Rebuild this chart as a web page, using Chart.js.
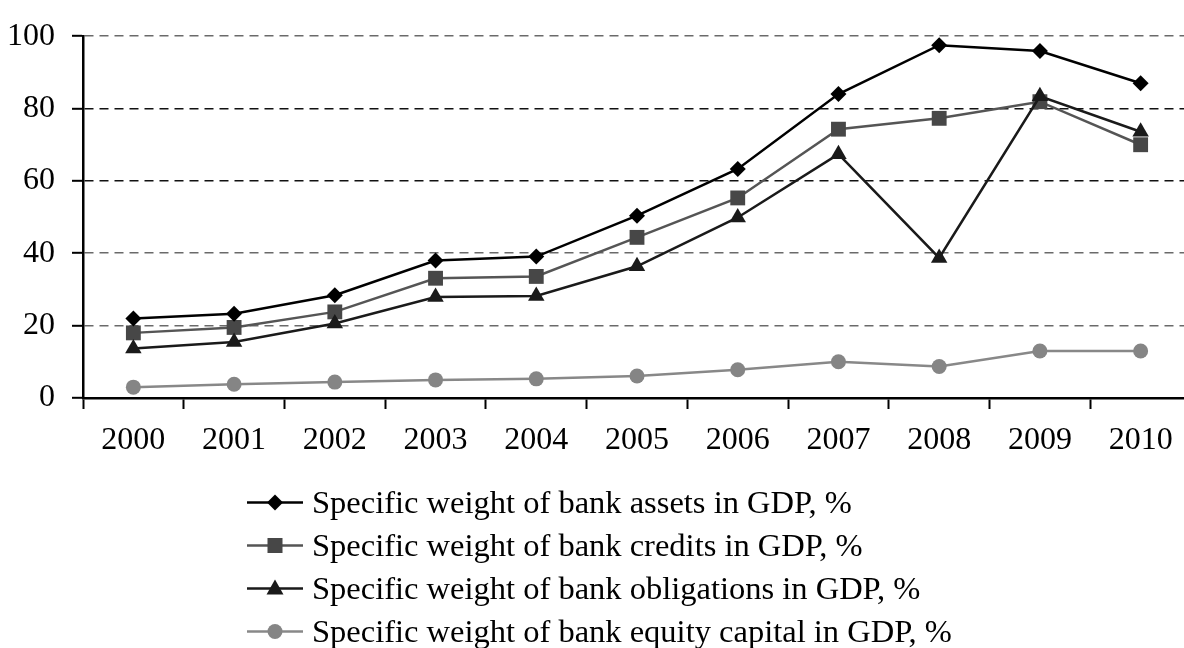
<!DOCTYPE html>
<html>
<head>
<meta charset="utf-8">
<script src="https://cdn.jsdelivr.net/npm/chart.js@4.4.1/dist/chart.umd.min.js"></script>
<style>
  html, body { margin: 0; padding: 0; background: #fff; overflow: hidden; }
  #wrap { position: relative; width: 1184px; height: 648px; overflow: hidden; background: #fff; }
  #c { position: absolute; left: 0; top: 0; }
  #legend { position: absolute; left: 247px; top: 481px; font-family: 'Liberation Serif', 'Times New Roman', serif; font-size: 32.5px; color: #000; }
  .row { display: flex; align-items: center; height: 43px; white-space: nowrap; }
  .row svg { flex: none; margin-right: 9px; }
</style>
</head>
<body>
<div id="wrap">
  <canvas id="c" width="1191" height="648"></canvas>
  <div id="legend"></div>
</div>
<script>
const years = ['2000','2001','2002','2003','2004','2005','2006','2007','2008','2009','2010'];
const assets      = [22.0, 23.3, 28.4, 38.0, 39.1, 50.4, 63.3, 84.0, 97.5, 95.9, 87.0];
const credits     = [18.0, 19.5, 23.8, 33.1, 33.6, 44.4, 55.3, 74.3, 77.3, 81.9, 70.0];
const obligations = [13.7, 15.5, 20.6, 27.9, 28.2, 36.4, 49.9, 67.4, 38.7, 83.4, 73.6];
const equity      = [3.0, 3.8, 4.4, 5.0, 5.3, 6.1, 7.8, 10.0, 8.7, 13.0, 13.0];
const seriesNames = [
  'Specific weight of bank assets in GDP, %',
  'Specific weight of bank credits in GDP, %',
  'Specific weight of bank obligations in GDP, %',
  'Specific weight of bank equity capital in GDP, %'
];
const yTicks = [0, 20, 40, 60, 80, 100];

const FONT = "'Liberation Serif', 'Times New Roman', serif";

const styles = [
  { line: '#000000', fill: '#000000', shape: 'rectRot', r: 8, order: 1 },
  { line: '#555555', fill: '#474747', shape: 'rect', r: 10.5, order: 3 },
  { line: '#1a1a1a', fill: '#1a1a1a', shape: 'triangle', r: 9.5, order: 2 },
  { line: '#888888', fill: '#858585', shape: 'circle', r: 7.5, order: 4 }
];
const values = [assets, credits, obligations, equity];

const datasets = values.map((v, i) => ({
  label: seriesNames[i],
  data: v,
  borderColor: styles[i].line,
  backgroundColor: styles[i].fill,
  pointBackgroundColor: styles[i].fill,
  pointBorderColor: styles[i].fill,
  pointBorderWidth: 0,
  pointStyle: styles[i].shape,
  pointRadius: styles[i].r,
  borderWidth: 2.5,
  tension: 0,
  clip: false,
  order: styles[i].order
}));

new Chart(document.getElementById('c'), {
  type: 'line',
  data: { labels: years, datasets },
  options: {
    responsive: false,
    animation: false,
    layout: { autoPadding: false, padding: { top: 34, right: 0, left: 0, bottom: 0 } },
    plugins: { legend: { display: false }, tooltip: { enabled: false } },
    scales: {
      x: {
        offset: true,
        afterFit: s => { s.height = 250; },
        grid: {
          offset: true,
          drawOnChartArea: false,
          drawTicks: true,
          tickLength: 11,
          tickColor: '#000',
          tickWidth: 2
        },
        border: { color: '#000', width: 2.5 },
        ticks: { color: '#000', padding: 12, font: { family: FONT, size: 32 }, maxRotation: 0, autoSkip: false }
      },
      y: {
        min: yTicks[0],
        max: yTicks[yTicks.length - 1],
        afterFit: s => { s.width = 83; },
        afterBuildTicks: s => { s.ticks = yTicks.map(v => ({ value: v })); },
        grid: {
          color: c => (c.tick && c.tick.value === 0) ? 'rgba(0,0,0,0)' : ((c.tick && (c.tick.value === 60 || c.tick.value === 80)) ? '#111' : '#6a6a6a'),
          lineWidth: 1.6,
          drawTicks: true,
          tickLength: 11,
          tickColor: '#000',
          tickWidth: 2,
          tickBorderDash: [0, 0]
        },
        border: { color: '#000', width: 2.5, dash: [9, 6] },
        ticks: { color: '#000', padding: 17, font: { family: FONT, size: 32 } }
      }
    }
  }
});

// HTML legend
const legend = document.getElementById('legend');
function icon(st) {
  const w = 56, h = 43, cx = 28, cy = 21.5;
  let m = '';
  if (st.shape === 'rectRot') m = `<polygon points="${cx},${cy-8} ${cx+8},${cy} ${cx},${cy+8} ${cx-8},${cy}" fill="${st.fill}"/>`;
  else if (st.shape === 'rect') m = `<rect x="${cx-7.5}" y="${cy-7.5}" width="15" height="15" fill="${st.fill}"/>`;
  else if (st.shape === 'triangle') m = `<polygon points="${cx},${cy-9} ${cx+8.5},${cy+6} ${cx-8.5},${cy+6}" fill="${st.fill}"/>`;
  else m = `<circle cx="${cx}" cy="${cy}" r="7.5" fill="${st.fill}"/>`;
  return `<svg width="${w}" height="${h}" viewBox="0 0 ${w} ${h}"><line x1="0" y1="${cy}" x2="${w}" y2="${cy}" stroke="${st.line}" stroke-width="2.5"/>${m}</svg>`;
}
seriesNames.forEach((n, i) => {
  const d = document.createElement('div');
  d.className = 'row';
  d.innerHTML = icon(styles[i]) + '<span>' + n + '</span>';
  legend.appendChild(d);
});
</script>
</body>
</html>
